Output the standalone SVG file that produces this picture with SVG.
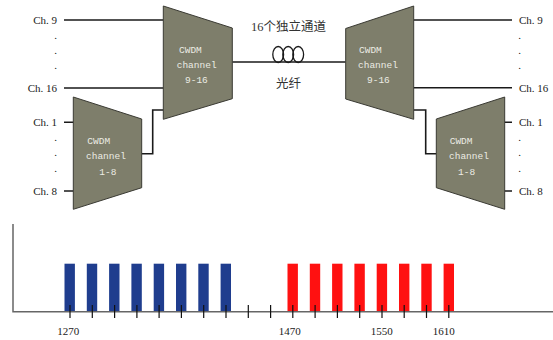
<svg xmlns="http://www.w3.org/2000/svg" width="553" height="340" viewBox="0 0 553 340">
<style>
.trap{fill:#7e7e6b;stroke:#3a3a33;stroke-width:1}
.ln{fill:none;stroke:#1a1a1a;stroke-width:1.6}
.lbl{font-family:"Liberation Serif",serif;font-size:11px;fill:#222}
.in{font-family:"Liberation Mono",monospace;font-size:9.5px;fill:#ecece4}
.cn{font-family:"Liberation Serif","Noto Sans CJK SC",serif;font-size:12.5px;fill:#333;text-anchor:middle}
.blue{fill:#1f3d8e}
.red{fill:#ff1111}
.tick{stroke:#111;stroke-width:1.2}
.axis{stroke:#666;stroke-width:1.5;fill:none}
.num{font-family:"Liberation Serif",serif;font-size:11px;fill:#222;text-anchor:middle}
</style>
<rect width="553" height="340" fill="#fff"/>
<g id="connectors">
<path class="ln" d="M64,20H163.3M64,88H163.3M64,122.3H73.3M64,191H73.3"/>
<path class="ln" d="M141.7,153.7H152.7V110H163.3"/>
<path class="ln" d="M413.7,20H512M413.7,87.7H512M504.7,122.3H512M504.7,191H512"/>
<path class="ln" d="M413.7,110H425.7V153.7H436.3"/>
<path class="ln" d="M232.3,62H345.7"/>
<g fill="none" stroke="#1a1a1a" stroke-width="1.3">
<ellipse cx="278.2" cy="54.5" rx="5.4" ry="8"/>
<ellipse cx="288.2" cy="54.5" rx="5.4" ry="8"/>
<ellipse cx="298.2" cy="54.5" rx="5.4" ry="8"/>
</g>
</g>
<g id="fiber-label">
<text class="cn" x="288.5" y="31">16个独立通道</text>
<text class="cn" x="288.5" y="88">光纤</text>
</g>
<g id="mux-left-9-16">
<polygon class="trap" points="163.3,6 232.3,28 232.3,98.7 163.3,119.3"/>
<text class="in" x="179" y="52.5">CWDM</text>
<text class="in" x="176.7" y="67.5">channel</text>
<text class="in" x="185" y="82.5">9-16</text>
</g>
<g id="mux-left-1-8">
<polygon class="trap" points="73.3,97 141.7,119 141.7,187.7 73.3,209.3"/>
<text class="in" x="87.3" y="143.5">CWDM</text>
<text class="in" x="86" y="159">channel</text>
<text class="in" x="99.3" y="174.5">1-8</text>
</g>
<g id="demux-right-9-16">
<polygon class="trap" points="413.7,6 345.7,28.5 345.7,99 413.7,119.3"/>
<text class="in" x="359" y="52.5">CWDM</text>
<text class="in" x="358" y="67.5">channel</text>
<text class="in" x="367" y="82.5">9-16</text>
</g>
<g id="demux-right-1-8">
<polygon class="trap" points="504.7,97 436.3,119 436.3,187.7 504.7,209.3"/>
<text class="in" x="449.7" y="143.5">CWDM</text>
<text class="in" x="449" y="159">channel</text>
<text class="in" x="458" y="174.5">1-8</text>
</g>
<g id="labels-left" class="lbl">
<text x="57" y="23.5" text-anchor="end">Ch. 9</text>
<text x="55.7" y="38.5" text-anchor="middle">.</text>
<text x="55.7" y="53.5" text-anchor="middle">.</text>
<text x="55.7" y="68.5" text-anchor="middle">.</text>
<text x="57" y="91.5" text-anchor="end">Ch. 16</text>
<text x="57" y="125.8" text-anchor="end">Ch. 1</text>
<text x="55.7" y="140.5" text-anchor="middle">.</text>
<text x="55.7" y="156" text-anchor="middle">.</text>
<text x="55.7" y="171.5" text-anchor="middle">.</text>
<text x="57" y="194.5" text-anchor="end">Ch. 8</text>
</g>
<g id="labels-right" class="lbl">
<text x="519" y="23.5">Ch. 9</text>
<text x="519.7" y="38.5" text-anchor="middle">.</text>
<text x="519.7" y="53.5" text-anchor="middle">.</text>
<text x="519.7" y="68.5" text-anchor="middle">.</text>
<text x="519" y="91.5">Ch. 16</text>
<text x="519" y="125.8">Ch. 1</text>
<text x="519.7" y="140.5" text-anchor="middle">.</text>
<text x="519.7" y="156" text-anchor="middle">.</text>
<text x="519.7" y="171.5" text-anchor="middle">.</text>
<text x="519" y="194.5">Ch. 8</text>
</g>
<g id="spectrum">
<g class="blue">
<rect x="64.5" y="263.7" width="10.4" height="48"/>
<rect x="86.8" y="263.7" width="10.4" height="48"/>
<rect x="109.1" y="263.7" width="10.4" height="48"/>
<rect x="131.4" y="263.7" width="10.4" height="48"/>
<rect x="153.7" y="263.7" width="10.4" height="48"/>
<rect x="176" y="263.7" width="10.4" height="48"/>
<rect x="198.3" y="263.7" width="10.4" height="48"/>
<rect x="220.6" y="263.7" width="10.4" height="48"/>
</g>
<g class="red">
<rect x="287.5" y="263.7" width="10.4" height="48"/>
<rect x="309.8" y="263.7" width="10.4" height="48"/>
<rect x="332.1" y="263.7" width="10.4" height="48"/>
<rect x="354.4" y="263.7" width="10.4" height="48"/>
<rect x="376.7" y="263.7" width="10.4" height="48"/>
<rect x="399" y="263.7" width="10.4" height="48"/>
<rect x="421.3" y="263.7" width="10.4" height="48"/>
<rect x="443.6" y="263.7" width="10.4" height="48"/>
</g>
<path class="axis" d="M13,224V311.7H553"/>
<path class="tick" d="M70,305V318M92.3,305V318M114.6,305V318M136.9,305V318M159.1,305V318M181.4,305V318M203.7,305V318M226,305V318M248.3,305V318M270.6,305V318M292.8,305V318M315.1,305V318M337.4,305V318M359.7,305V318M382,305V318M404.2,305V318M426.5,305V318M448.8,305V318"/>
<text class="num" x="68.3" y="335">1270</text>
<text class="num" x="289.7" y="335">1470</text>
<text class="num" x="381.7" y="335">1550</text>
<text class="num" x="443.7" y="335">1610</text>
</g>
</svg>
